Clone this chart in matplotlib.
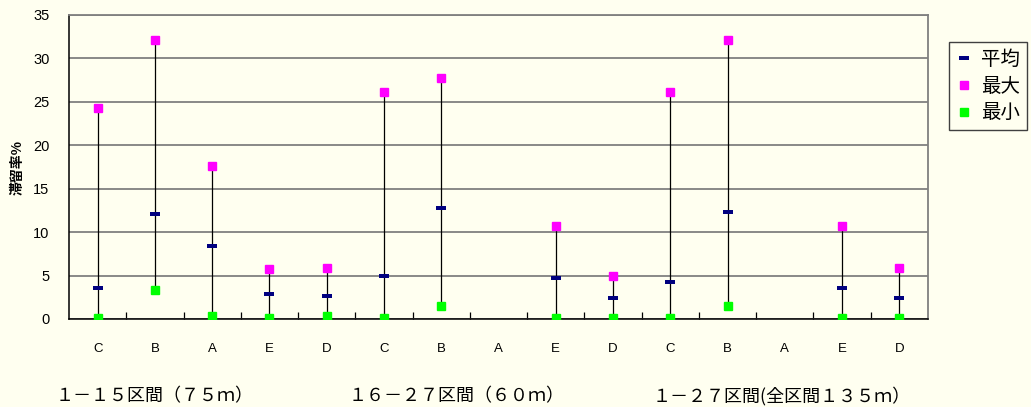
import numpy as np
import matplotlib
matplotlib.use("Agg")
import matplotlib.pyplot as plt
from matplotlib.lines import Line2D

plt.rcParams['font.family'] = ['Noto Sans CJK JP', 'DejaVu Sans']

nan = np.nan
categories = ['C', 'B', 'A', 'E', 'D', 'C', 'B', 'A', 'E', 'D', 'C', 'B', 'A', 'E', 'D']
avg_vals = [3.6, 12.1, 8.45, 2.9, 2.7, 5.0, 12.8, nan, 4.75, 2.45, 4.3, 12.35, nan, 3.6, 2.45]
max_vals = [24.3, 32.15, 17.65, 5.7, 5.9, 26.15, 27.8, nan, 10.75, 4.95, 26.15, 32.15, nan, 10.75, 5.9]
min_vals = [0.1, 3.35, 0.4, 0.1, 0.4, 0.1, 1.55, nan, 0.1, 0.1, 0.1, 1.55, nan, 0.1, 0.1]
group_labels = ['１－１５区間（７５ｍ）', '１６－２７区間（６０ｍ）', '１－２７区間(全区間１３５ｍ）']
group_label_x = [155, 457, 782]
legend_labels = ['平均', '最大', '最小']
yticks = [0, 5, 10, 15, 20, 25, 30, 35]

bg = '#FFFFF0'
c_avg = '#000080'
c_max = '#FF00FF'
c_min = '#00FF00'

W, H = 1031, 407
fig = plt.figure(figsize=(W / 100, H / 100), dpi=100, facecolor=bg)
ax = fig.add_axes([69 / W, (H - 319) / H, (928 - 69) / W, (319 - 15) / H])
ax.set_facecolor(bg)

x = np.arange(len(categories))
dash = [(-5, -1.5), (5, -1.5), (5, 1.5), (-5, 1.5), (-5, -1.5)]

for xi, lo, hi in zip(x, min_vals, max_vals):
    if not (np.isnan(lo) or np.isnan(hi)):
        ax.plot([xi, xi], [lo, hi], color='black', lw=0.9, zorder=3)

ax.plot(x, max_vals, ls='none', marker='s', ms=5.8, color=c_max, mec=c_max, zorder=4)
ax.plot(x, min_vals, ls='none', marker='s', ms=5.8, color=c_min, mec=c_min, zorder=4)
ax.plot(x, avg_vals, ls='none', marker=dash, ms=7.5, color=c_avg, mec=c_avg, mew=0, zorder=5)

ax.set_xlim(-0.5, len(categories) - 0.5)
ax.set_ylim(0, 35)
ax.set_yticks(yticks)
ax.set_yticklabels([str(v) for v in yticks], family=['Liberation Sans'], fontsize=10.5)
ax.tick_params(axis='y', length=0, pad=14)
ax.yaxis.grid(True, color='#808080', lw=1.3, zorder=1)
ax.set_axisbelow(True)

ax.set_xticks(x)
ax.set_xticklabels(categories, family=['Liberation Sans'], fontsize=9.5)
ax.tick_params(axis='x', which='major', length=0, pad=17)
ax.set_xticks(np.arange(0.5, len(categories) - 0.5, 1.0), minor=True)
ax.tick_params(axis='x', which='minor', direction='in', length=5, width=0.9, color='black')

for s in ['left', 'bottom']:
    ax.spines[s].set_color('black')
    ax.spines[s].set_linewidth(1.1)
for s in ['top', 'right']:
    ax.spines[s].set_color('#808080')
    ax.spines[s].set_linewidth(1.3)

fig.text(18 / W, 1 - 167 / H, '滞留率%', rotation=90, ha='center', va='center',
         fontsize=10, fontweight='bold')

for lab, px in zip(group_labels, group_label_x):
    fig.text(px / W, 1 - 396 / H, lab, ha='center', va='center', fontsize=13)

handles = [
    Line2D([], [], ls='none', marker=dash, ms=7.5, color=c_avg, mew=0),
    Line2D([], [], ls='none', marker='s', ms=5.8, color=c_max),
    Line2D([], [], ls='none', marker='s', ms=5.8, color=c_min),
]
leg = fig.legend(handles, legend_labels, loc='upper left',
                 bbox_to_anchor=(949 / W, 1 - 42 / H), bbox_transform=fig.transFigure,
                 fontsize=14, frameon=True, fancybox=False, facecolor=bg, framealpha=1,
                 edgecolor='#404040', handlelength=0.8, handletextpad=0.5,
                 labelspacing=0.3, borderpad=0.35, borderaxespad=0)
leg.get_frame().set_linewidth(1.0)

fig.savefig('out.png', dpi=100, facecolor=bg)
